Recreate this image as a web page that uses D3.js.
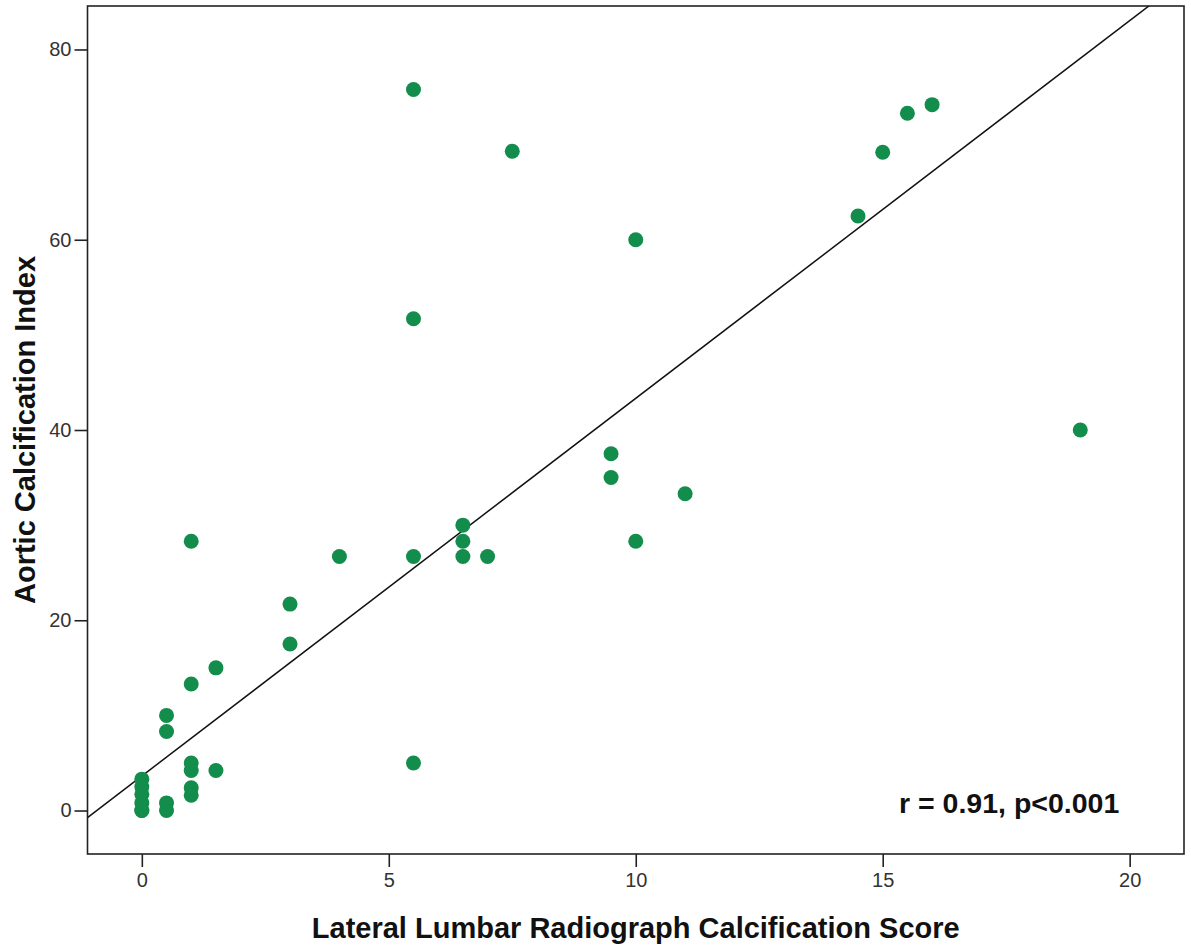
<!DOCTYPE html>
<html>
<head>
<meta charset="utf-8">
<script src="https://cdn.jsdelivr.net/npm/d3@7"></script>
<style>
  html, body { margin: 0; padding: 0; background: #fff; }
  svg { display: block; }
</style>
</head>
<body>
<svg id="chart" width="1191" height="948"></svg>
<script>
// Lateral Lumbar Radiograph Calcification Score (x) vs Aortic Calcification Index (y)
const lumbarScore = [0, 0, 0, 0, 0, 0,
  0.5, 0.5, 0.5, 0.5,
  1, 1, 1, 1, 1, 1,
  1.5, 1.5,
  3, 3,
  4,
  5.5, 5.5, 5.5, 5.5,
  6.5, 6.5, 6.5,
  7, 7.5,
  9.5, 9.5,
  10, 10,
  11, 14.5, 15, 15.5, 16, 19];
const aorticIndex = [3.3, 2.5, 1.7, 0.8, 0, 0,
  10.0, 8.3, 0.8, 0,
  28.3, 13.3, 5.0, 4.2, 2.4, 1.6,
  15.0, 4.2,
  21.7, 17.5,
  26.7,
  75.8, 51.7, 26.7, 5.0,
  30.0, 28.3, 26.7,
  26.7, 69.3,
  37.5, 35.0,
  60.0, 28.3,
  33.3, 62.5, 69.2, 73.3, 74.2, 40.0];
const xTicks = [0, 5, 10, 15, 20];
const yTicks = [0, 20, 40, 60, 80];
const fitIntercept = 3.63;
const fitSlope = 3.97;
const xDomain = [-1.1, 21.1];
const yDomain = [-4.57, 84.57];
const annotation = "r = 0.91, p<0.001";
const xTitle = "Lateral Lumbar Radiograph Calcification Score";
const yTitle = "Aortic Calcification Index";

(function () {
const points = lumbarScore.map((x, i) => ({x, y: aorticIndex[i]}));

const pLeft = 87.5, pRight = 1184, pTop = 6, pBottom = 854;
const x = d3.scaleLinear().domain(xDomain).range([pLeft, pRight]);
const y = d3.scaleLinear().domain(yDomain).range([pBottom, pTop]);

const svg = d3.select("#chart");
const axisColor = "#222";
const font = "'Liberation Sans', Arial, sans-serif";

svg.append("defs").append("clipPath").attr("id", "plotClip")
  .append("rect").attr("x", pLeft).attr("y", pTop)
  .attr("width", pRight - pLeft).attr("height", pBottom - pTop);

// Axes
const xAxis = svg.append("g").attr("transform", `translate(0,${pBottom})`)
  .call(d3.axisBottom(x).tickValues(xTicks).tickSize(13).tickSizeOuter(0).tickPadding(6));
const yAxis = svg.append("g").attr("transform", `translate(${pLeft},0)`)
  .call(d3.axisLeft(y).tickValues(yTicks).tickSize(13).tickSizeOuter(0).tickPadding(3));
[xAxis, yAxis].forEach(g => {
  g.select(".domain").remove();
  g.selectAll(".tick line").attr("stroke", axisColor).attr("stroke-width", 1.6);
  g.selectAll(".tick text").attr("fill", "#333").style("font-family", font).style("font-size", "20px");
});

// Frame
svg.append("rect").attr("x", pLeft).attr("y", pTop)
  .attr("width", pRight - pLeft).attr("height", pBottom - pTop)
  .attr("fill", "none").attr("stroke", axisColor).attr("stroke-width", 1.6);

// Fit line
const plot = svg.append("g").attr("clip-path", "url(#plotClip)");
plot.append("line")
  .attr("x1", x(xDomain[0])).attr("y1", y(fitIntercept + fitSlope * xDomain[0]))
  .attr("x2", x(xDomain[1])).attr("y2", y(fitIntercept + fitSlope * xDomain[1]))
  .attr("stroke", "#111").attr("stroke-width", 1.5);

// Points
svg.append("g").selectAll("circle").data(points).join("circle")
  .attr("cx", d => x(d.x)).attr("cy", d => y(d.y)).attr("r", 7.5)
  .attr("fill", "#138d4b");

// Annotation
svg.append("text").attr("x", 899).attr("y", 813)
  .style("font-family", font).style("font-size", "28.5px").style("font-weight", "bold")
  .attr("fill", "#111").text(annotation);

// Axis titles
svg.append("text").attr("x", (pLeft + pRight) / 2).attr("y", 938)
  .attr("text-anchor", "middle")
  .style("font-family", font).style("font-size", "29px").style("font-weight", "bold")
  .attr("fill", "#111").text(xTitle);
svg.append("text")
  .attr("transform", `translate(35,${(pTop + pBottom) / 2}) rotate(-90)`)
  .attr("text-anchor", "middle")
  .style("font-family", font).style("font-size", "29px").style("font-weight", "bold")
  .attr("fill", "#111").text(yTitle);
})();
</script>
</body>
</html>
